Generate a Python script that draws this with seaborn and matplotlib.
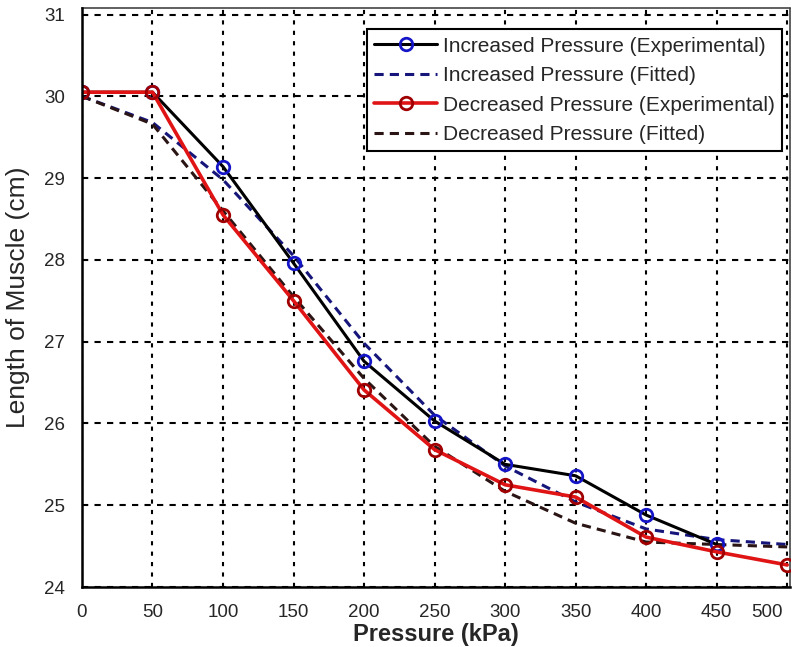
import matplotlib
matplotlib.use("Agg")
import matplotlib.pyplot as plt
import seaborn as sns
import pandas as pd

# values
pressure = [0, 50, 100, 150, 200, 250, 300, 350, 400, 450, 500]
inc_exp_pressure = [0, 50, 100, 150, 200, 250, 300, 350, 400, 450]
inc_exp = [30.05, 30.05, 29.14, 27.96, 26.76, 26.03, 25.50, 25.36, 24.88, 24.52]
inc_fit = [30.0, 29.68, 28.98, 28.05, 26.98, 26.10, 25.48, 25.04, 24.71, 24.58, 24.52]
dec_exp = [30.05, 30.05, 28.55, 27.50, 26.41, 25.68, 25.25, 25.10, 24.61, 24.43, 24.27]
dec_fit = [30.0, 29.66, 28.60, 27.55, 26.55, 25.72, 25.17, 24.78, 24.55, 24.52, 24.49]
x_ticks = [0, 50, 100, 150, 200, 250, 300, 350, 400, 450, 500]
y_ticks = [24, 25, 26, 27, 28, 29, 30, 31]

labels = ["Increased Pressure (Experimental)", "Increased Pressure (Fitted)",
          "Decreased Pressure (Experimental)", "Decreased Pressure (Fitted)"]

sns.set_style("white")
plt.rcParams['font.family'] = ['Liberation Sans', 'DejaVu Sans']

fig = plt.figure(figsize=(7.92, 6.47), dpi=100)
ax = fig.add_axes([0.1035, 0.0927, 0.894, 0.895])

df_ie = pd.DataFrame({'x': inc_exp_pressure, 'y': inc_exp})
df_if = pd.DataFrame({'x': pressure, 'y': inc_fit})
df_de = pd.DataFrame({'x': pressure, 'y': dec_exp})
df_df = pd.DataFrame({'x': pressure, 'y': dec_fit})

sns.lineplot(data=df_ie, x='x', y='y', ax=ax, color='black', lw=2.2,
             marker='o', markersize=9, markeredgecolor='#1515c8', markerfacecolor='none',
             markeredgewidth=2, label=labels[0], zorder=4)
sns.lineplot(data=df_if, x='x', y='y', ax=ax, color='#15157a', lw=2.2,
             linestyle=(0, (3, 2)), label=labels[1], zorder=3)
sns.lineplot(data=df_de, x='x', y='y', ax=ax, color='#e01414', lw=2.6,
             marker='o', markersize=9, markeredgecolor='#a00000', markerfacecolor='none',
             markeredgewidth=2, label=labels[2], zorder=5)
sns.lineplot(data=df_df, x='x', y='y', ax=ax, color='#2a1414', lw=2.2,
             linestyle=(0, (3, 2)), label=labels[3], zorder=3)

ax.set_xlim(0, 502)
ax.set_ylim(24.0, 31.08)
ax.set_xticks(x_ticks)
# last label is drawn separately so it is not cut by the figure edge
ax.set_xticklabels([str(t) for t in x_ticks[:-1]] + [""])
ax.set_yticks(y_ticks)
ax.tick_params(axis='both', direction='in', length=5, width=1.2, labelsize=13.5,
               color='black', pad=12)
ax.annotate(str(x_ticks[-1]), xy=(x_ticks[-1], 0), xycoords=('data', 'axes fraction'),
            xytext=(-3, -12), textcoords='offset points', ha='right', va='top',
            fontsize=13.5, color='#262626', annotation_clip=False)

ax.grid(True, axis='y', color='black', linestyle=(0, (3, 3)), lw=1.5)
ax.grid(True, axis='x', color='black', linestyle=(0, (2, 3)), lw=1.5)
ax.set_axisbelow(True)

for side in ['left', 'bottom']:
    ax.spines[side].set_color('black')
    ax.spines[side].set_linewidth(1.8)
    ax.spines[side].set_zorder(6)
for side in ['top', 'right']:
    ax.spines[side].set_color('#444444')
    ax.spines[side].set_linewidth(1.2)
    ax.spines[side].set_linestyle((0, (2, 1)))

ax.set_xlabel("Pressure (kPa)", fontsize=17, fontweight='bold', labelpad=2)
ax.set_ylabel("Length of Muscle (cm)", fontsize=19, labelpad=10)

leg = ax.legend(loc='upper right', bbox_to_anchor=(0.995, 0.97), fontsize=15,
                frameon=True, fancybox=False, handlelength=3.0, borderpad=0.35,
                labelspacing=0.5, handletextpad=0.3, borderaxespad=0.2)
leg.get_frame().set_edgecolor('black')
leg.get_frame().set_linewidth(1.5)
leg.get_frame().set_alpha(1)

fig.savefig("out.png", dpi=100, facecolor="white")
